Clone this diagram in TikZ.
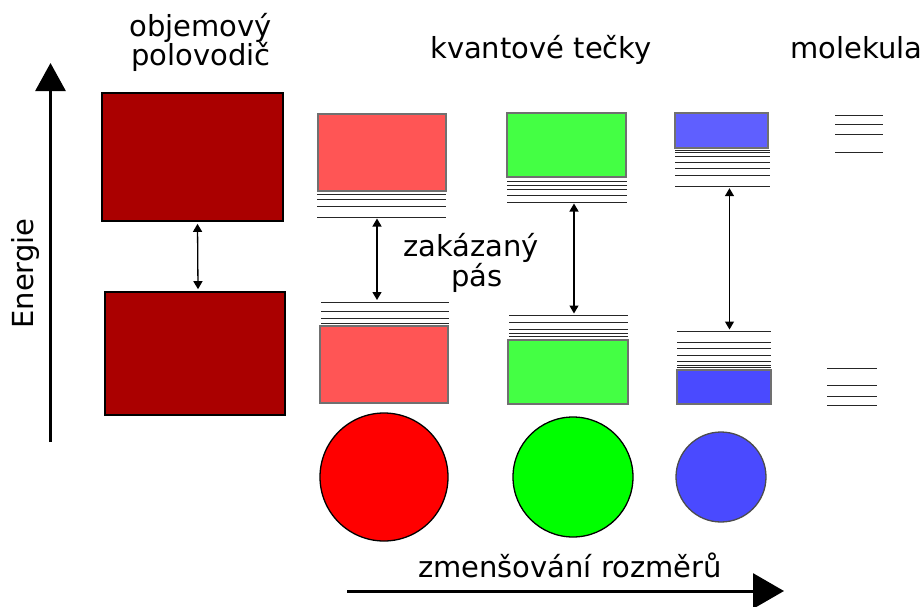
\documentclass[tikz,border=0pt]{standalone}
\usepackage{fontspec}
\setmainfont{DejaVu Sans}
\usetikzlibrary{arrows.meta}
\definecolor{bulkred}{HTML}{AA0000}
\definecolor{qdred}{HTML}{FF5555}
\definecolor{qdgreen}{HTML}{44FF44}
\definecolor{qdblue}{HTML}{5F5FFF}
\definecolor{qdbluelow}{HTML}{4A4AFF}
\definecolor{dotred}{HTML}{FF0000}
\definecolor{dotgreen}{HTML}{00FF00}
\definecolor{dotblue}{HTML}{4A4AFF}
\definecolor{edgegray}{HTML}{707070}
\tikzset{
  lbl/.style={font=\fontsize{29}{30}\selectfont, inner sep=0pt, anchor=base},
  bulkband/.style={draw=black, line width=1.6pt, inner sep=0pt},
  qdband/.style={draw=edgegray, line width=1.4pt, inner sep=0pt},
  dot/.style={circle, draw=black, line width=1.3pt, inner sep=0pt},
  level/.style={line width=1pt, black!85},
  gap/.style={line width=1.3pt, {Triangle[length=8pt,width=9pt]}-{Triangle[length=8pt,width=9pt]}},
  axis/.style={line width=3pt}
}
\begin{document}
\begin{tikzpicture}[x=1pt,y=-1pt]
\useasboundingbox (0,0) rectangle (921,606);

% energy axis
\coordinate (ebot) at (50.5,442);
\coordinate (etop) at (50.5,63);
\draw[axis, -{Triangle[length=28pt,width=30pt]}] (ebot) -- (etop);
\node[lbl, rotate=90] (energy) at (33.3,273.5) {Energie};

% size axis
\coordinate (sleft) at (347,591);
\coordinate (sright) at (784,591);
\draw[axis, -{Triangle[length=31pt,width=35pt]}] (sleft) -- (sright);
\node[lbl] (shrink) at (570,577) {zmenšování rozměrů};

% headings
\node[lbl] (bulk1) at (200.8,36.7) {objemový};
\node[lbl] (bulk2) at (200.8,65) {polovodič};
\node[lbl] (qdots) at (541,58) {kvantové tečky};
\node[lbl, anchor=base west] (mol) at (790,58) {molekula};
\node[lbl] (gap1) at (471,256.7) {zakázaný};
\node[lbl] (gap2) at (477,286.7) {pás};

% bulk semiconductor bands
\node[bulkband, fill=bulkred, minimum width=181pt, minimum height=128pt] (bcb) at (192.5,157) {};
\node[bulkband, fill=bulkred, minimum width=180pt, minimum height=123pt] (bvb) at (195,353.5) {};
\draw[gap] ([xshift=5pt,yshift=-2pt]bcb.south) -- ([xshift=3pt,yshift=2pt]bvb.north);

% large quantum dot (red)
\node[qdband, fill=qdred, minimum width=128pt, minimum height=77pt] (rcb) at (382,152.5) {};
\node[qdband, fill=qdred, minimum width=128pt, minimum height=77pt] (rvb) at (384,364.5) {};
\foreach \y in {194.3,199.3,206,217} \draw[level] (317,\y) -- (446,\y);
\foreach \y in {302.3,311.3,318,323} \draw[level] (321,\y) -- (449,\y);
\coordinate (rtop) at (377,218.5);
\coordinate (rbot) at (377,300);
\draw[gap] (rtop) -- (rbot);
\node[dot, fill=dotred, minimum size=128pt] (rdot) at (384,477) {};

% medium quantum dot (green)
\node[qdband, fill=qdgreen, minimum width=119pt, minimum height=64pt] (gcb) at (566.5,145) {};
\node[qdband, fill=qdgreen, minimum width=120pt, minimum height=64pt] (gvb) at (568,372) {};
\foreach \y in {181,185,189.3,195.3,202} \draw[level] (507,\y) -- (627,\y);
\foreach \y in {315,322.3,329,333.3,336.7} \draw[level] (509,\y) -- (628,\y);
\coordinate (gtop) at (574,203.5);
\coordinate (gbot) at (574,313.5);
\draw[gap] (gtop) -- (gbot);
\node[dot, fill=dotgreen, minimum size=120pt] (gdot) at (573,477) {};

% small quantum dot (blue)
\node[qdband, fill=qdblue, minimum width=93pt, minimum height=35pt] (bcb2) at (721.5,130.5) {};
\node[qdband, fill=qdbluelow, minimum width=94pt, minimum height=34pt] (bvb2) at (724,387) {};
\foreach \y in {150,152.7,156.7,162,168.7,175,186.7} \draw[level] (675,\y) -- (770,\y);
\foreach \y in {331,342.7,348.7,355.3,361.7,365.3,367.7} \draw[level] (677,\y) -- (771,\y);
\coordinate (btop) at (729.5,188.2);
\coordinate (bbot) at (729.5,329.5);
\draw[gap] (btop) -- (bbot);
\node[dot, draw=black!70, fill=dotblue, minimum size=90pt] (bdot) at (721,477) {};

% molecule: discrete levels
\foreach \y in {115.7,124.3,134.7,152.3} \draw[level] (835,\y) -- (883,\y);
\foreach \y in {368.3,385.7,396,405} \draw[level] (827,\y) -- (877,\y);
\end{tikzpicture}
\end{document}
